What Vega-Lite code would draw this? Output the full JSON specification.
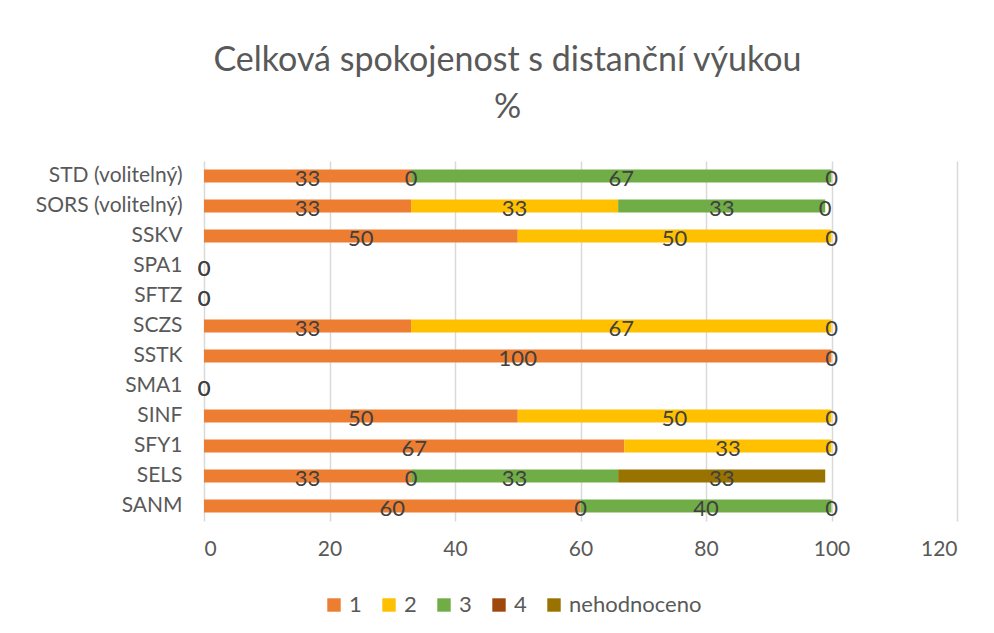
{
  "$schema": "https://vega.github.io/schema/vega-lite/v6.json",
  "width": 753,
  "height": 360,
  "autosize": "none",
  "padding": {"left": 204, "top": 161, "right": 37, "bottom": 112},
  "background": "white",
  "title": {
    "text": ["Celková spokojenost s distanční výukou", "%"],
    "font": "Lato",
    "fontSize": 34,
    "fontWeight": "normal",
    "color": "#595959",
    "lineHeight": 47,
    "anchor": "middle",
    "dx": -73,
    "offset": 36
  },
  "data": {
    "values": [
      {"cat": "STD (volitelný)", "series": "1", "value": 33},
      {"cat": "STD (volitelný)", "series": "2", "value": 0},
      {"cat": "STD (volitelný)", "series": "3", "value": 67},
      {"cat": "STD (volitelný)", "series": "4", "value": 0},
      {"cat": "SORS (volitelný)", "series": "1", "value": 33},
      {"cat": "SORS (volitelný)", "series": "2", "value": 33},
      {"cat": "SORS (volitelný)", "series": "3", "value": 33},
      {"cat": "SORS (volitelný)", "series": "4", "value": 0},
      {"cat": "SSKV", "series": "1", "value": 50},
      {"cat": "SSKV", "series": "2", "value": 50},
      {"cat": "SSKV", "series": "4", "value": 0},
      {"cat": "SPA1", "series": "1", "value": 0},
      {"cat": "SPA1", "series": "2", "value": 0},
      {"cat": "SFTZ", "series": "1", "value": 0},
      {"cat": "SFTZ", "series": "2", "value": 0},
      {"cat": "SCZS", "series": "1", "value": 33},
      {"cat": "SCZS", "series": "2", "value": 67},
      {"cat": "SCZS", "series": "4", "value": 0},
      {"cat": "SSTK", "series": "1", "value": 100},
      {"cat": "SSTK", "series": "4", "value": 0},
      {"cat": "SMA1", "series": "1", "value": 0},
      {"cat": "SMA1", "series": "2", "value": 0},
      {"cat": "SINF", "series": "1", "value": 50},
      {"cat": "SINF", "series": "2", "value": 50},
      {"cat": "SINF", "series": "4", "value": 0},
      {"cat": "SFY1", "series": "1", "value": 67},
      {"cat": "SFY1", "series": "2", "value": 33},
      {"cat": "SFY1", "series": "4", "value": 0},
      {"cat": "SELS", "series": "1", "value": 33},
      {"cat": "SELS", "series": "2", "value": 0},
      {"cat": "SELS", "series": "3", "value": 33},
      {"cat": "SELS", "series": "nehodnoceno", "value": 33},
      {"cat": "SANM", "series": "1", "value": 60},
      {"cat": "SANM", "series": "2", "value": 0},
      {"cat": "SANM", "series": "3", "value": 40},
      {"cat": "SANM", "series": "4", "value": 0}
    ]
  },
  "transform": [
    {"stack": "value", "groupby": ["cat"], "sort": [{"field": "series", "order": "ascending"}], "offset": "zero", "as": ["v0", "v1"]},
    {"calculate": "(datum.v0 + datum.v1) / 2", "as": "mid"}
  ],
  "encoding": {
    "y": {
      "field": "cat",
      "type": "nominal",
      "sort": ["STD (volitelný)", "SORS (volitelný)", "SSKV", "SPA1", "SFTZ", "SCZS", "SSTK", "SMA1", "SINF", "SFY1", "SELS", "SANM"],
      "scale": {"paddingInner": 0.56, "paddingOuter": 0.28},
      "axis": {
        "title": null,
        "domain": false,
        "ticks": false,
        "labelFont": "Lato",
        "labelFontSize": 21,
        "labelColor": "#595959",
        "labelPadding": 22
      }
    }
  },
  "layer": [
    {
      "mark": {"type": "bar"},
      "encoding": {
        "x": {
          "field": "v0",
          "type": "quantitative",
          "scale": {"domain": [0, 120]},
          "axis": {
            "title": null,
            "values": [0, 20, 40, 60, 80, 100, 120],
            "domain": false,
            "ticks": false,
            "grid": true,
            "gridColor": "#D9D9D9",
            "gridWidth": 1.5,
            "labelFont": "Lato",
            "labelFontSize": 21,
            "labelColor": "#595959",
            "labelPadding": 17
          }
        },
        "x2": {"field": "v1"},
        "color": {
          "field": "series",
          "type": "nominal",
          "scale": {
            "domain": ["1", "2", "3", "4", "nehodnoceno"],
            "range": ["#ED7D31", "#FFC000", "#70AD47", "#9E480E", "#997300"]
          },
          "legend": {
            "title": null,
            "orient": "none",
            "direction": "horizontal",
            "legendX": 119,
            "legendY": 433,
            "symbolType": "square",
            "symbolSize": 180,
            "symbolStrokeWidth": 0,
            "labelFont": "Lato",
            "labelFontSize": 22,
            "labelColor": "#595959",
            "columnPadding": 16,
            "labelOffset": 4
          }
        }
      }
    },
    {
      "mark": {"type": "text", "font": "Lato", "fontSize": 22, "color": "#404040", "dy": 3},
      "encoding": {
        "x": {"field": "mid", "type": "quantitative"},
        "text": {"field": "value", "type": "quantitative"}
      }
    }
  ],
  "config": {
    "view": {"stroke": null}
  }
}
